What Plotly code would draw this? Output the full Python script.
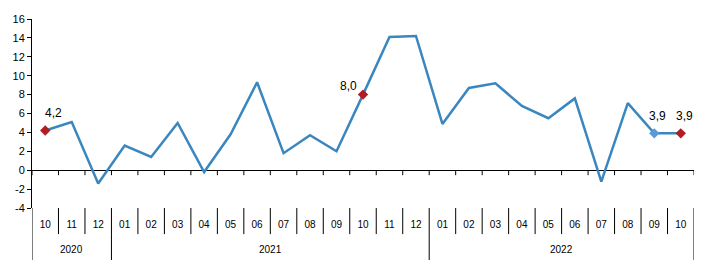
import plotly.graph_objects as go

months = ["10", "11", "12", "01", "02", "03", "04", "05", "06", "07", "08", "09",
          "10", "11", "12", "01", "02", "03", "04", "05", "06", "07", "08", "09", "10"]
years = ["2020"] * 3 + ["2021"] * 12 + ["2022"] * 10
values = [4.2, 5.1, -1.4, 2.6, 1.4, 5.0, -0.2, 3.8, 9.3, 1.8, 3.7, 2.0,
          8.0, 14.1, 14.2, 4.9, 8.7, 9.2, 6.8, 5.5, 7.6, -1.2, 7.1, 3.9, 3.9]
highlight_red = [0, 12, 24]
highlight_blue = [23]
y_ticks = [-4, -2, 0, 2, 4, 6, 8, 10, 12, 14, 16]

cats = [f"{y}-{m}" for y, m in zip(years, months)]
n = len(cats)

LINE = "#3A87C0"
RED = "#B01E23"
LBLUE = "#5B9BD5"
FONT = "Liberation Sans, Arial, sans-serif"

fig = go.Figure()
fig.add_trace(go.Scatter(x=cats, y=values, mode="lines",
                         line=dict(color=LINE, width=2.5), hoverinfo="skip"))
fig.add_trace(go.Scatter(x=[cats[i] for i in highlight_blue], y=[values[i] for i in highlight_blue],
                         mode="markers", marker=dict(symbol="diamond", size=8, color=LBLUE)))
fig.add_trace(go.Scatter(x=[cats[i] for i in highlight_red], y=[values[i] for i in highlight_red],
                         mode="markers", marker=dict(symbol="diamond", size=8, color=RED)))

label_offsets = {0: (8, 18), 12: (-15, 9), 23: (3, 17), 24: (4, 17)}
annotations = []
for i in highlight_red + highlight_blue:
    txt = f"{values[i]:.1f}".replace(".", ",")
    xs, ys = label_offsets[i]
    annotations.append(dict(x=cats[i], y=values[i], text=txt, showarrow=False,
                            yshift=ys, xshift=xs,
                            font=dict(family=FONT, size=12, color="#000")))

# year labels
groups = []
for idx, yv in enumerate(years):
    if not groups or groups[-1][0] != yv:
        groups.append([yv, idx, idx])
    else:
        groups[-1][2] = idx
for yv, a, b in groups:
    annotations.append(dict(x=(a + b) / 2, xref="x", y=-0.217, yref="paper", text=yv,
                            showarrow=False, yanchor="middle",
                            font=dict(family=FONT, size=10, color="#000")))

shapes = []
# month separators
for i in range(n + 1):
    shapes.append(dict(type="line", xref="x", yref="paper", x0=i - 0.5, x1=i - 0.5,
                       y0=0, y1=-0.138, line=dict(color="#000", width=1)))
    # ticks on zero line
    shapes.append(dict(type="line", xref="x", yref="y", ysizemode="pixel", yanchor=0,
                       x0=i - 0.5, x1=i - 0.5, y0=0, y1=-5, line=dict(color="#000", width=1)))
# year separators
bounds = [groups[0][1] - 0.5] + [g[2] + 0.5 for g in groups]
for bx in bounds:
    shapes.append(dict(type="line", xref="x", yref="paper", x0=bx, x1=bx,
                       y0=-0.138, y1=-0.275, line=dict(color="#000", width=1)))

fig.update_layout(
    width=704, height=268,
    margin=dict(l=32, r=10, t=19, b=60),
    paper_bgcolor="white", plot_bgcolor="white",
    showlegend=False,
    separators=",.",
    annotations=annotations,
    shapes=shapes,
    font=dict(family=FONT, color="#000"),
)
fig.update_xaxes(type="category", range=[-0.5, n - 0.5], tickmode="array",
                 tickvals=cats, ticktext=months, ticks="", showline=False,
                 showgrid=False, zeroline=False, ticklabelstandoff=9,
                 tickfont=dict(family=FONT, size=10, color="#000"))
fig.update_yaxes(range=[-4, 16], tickmode="array", tickvals=y_ticks,
                 ticktext=[str(t) for t in y_ticks], showgrid=False,
                 zeroline=True, zerolinecolor="#000", zerolinewidth=1,
                 showline=True, linecolor="#000", linewidth=1,
                 ticks="outside", ticklen=4, tickcolor="#000",
                 tickfont=dict(family=FONT, size=11, color="#000"))

fig.write_html("out.html")
